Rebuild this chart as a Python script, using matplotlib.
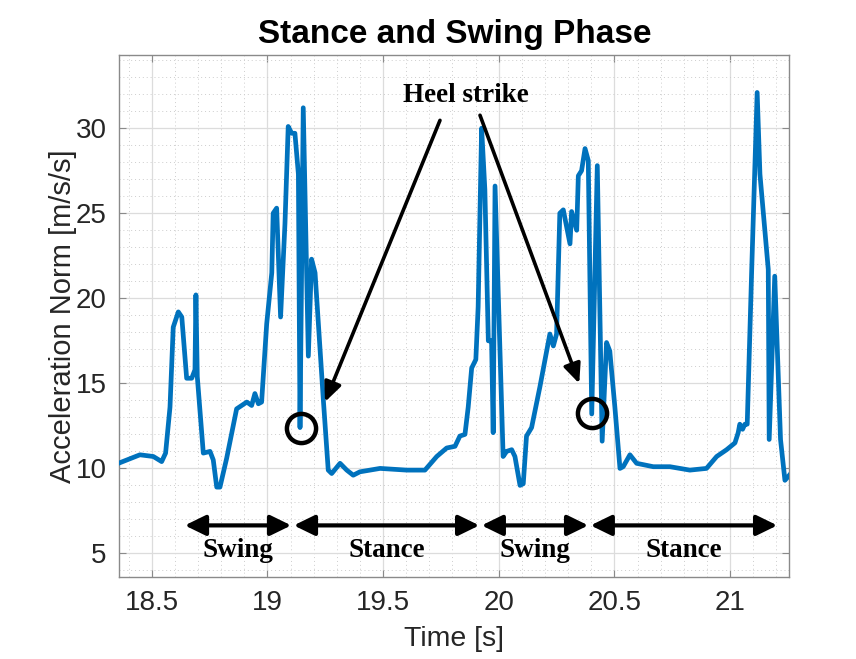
import matplotlib
matplotlib.use('Agg')
import matplotlib.pyplot as plt
from matplotlib.ticker import MultipleLocator

# acceleration norm trace
time_s = [18.356, 18.449, 18.507, 18.543, 18.560, 18.579, 18.593, 18.615, 18.630, 18.651,
          18.673, 18.687, 18.691, 18.697, 18.723, 18.752, 18.766, 18.781, 18.795, 18.824,
          18.867, 18.911, 18.932, 18.946, 18.961, 18.975, 18.997, 19.019, 19.025, 19.040,
          19.057, 19.076, 19.090, 19.105, 19.119, 19.134, 19.141, 19.155, 19.177, 19.191,
          19.206, 19.242, 19.263, 19.278, 19.314, 19.343, 19.371, 19.400, 19.487, 19.602,
          19.681, 19.732, 19.775, 19.811, 19.832, 19.854, 19.868, 19.883, 19.901, 19.911,
          19.926, 19.940, 19.955, 19.969, 19.976, 19.984, 20.019, 20.034, 20.056, 20.070,
          20.092, 20.106, 20.120, 20.142, 20.178, 20.221, 20.236, 20.250, 20.264, 20.279,
          20.308, 20.315, 20.337, 20.344, 20.358, 20.373, 20.387, 20.402, 20.426, 20.447,
          20.466, 20.480, 20.502, 20.524, 20.538, 20.567, 20.596, 20.668, 20.740, 20.826,
          20.898, 20.942, 20.985, 21.021, 21.035, 21.042, 21.054, 21.064, 21.074, 21.093,
          21.117, 21.129, 21.165, 21.169, 21.193, 21.218, 21.237, 21.256]
accel = [10.3, 10.8, 10.7, 10.4, 10.9, 13.6, 18.3, 19.2, 18.9, 15.3,
         15.3, 15.8, 20.2, 15.4, 10.9, 11.0, 10.5, 8.9, 8.9, 10.6,
         13.5, 13.9, 13.7, 14.4, 13.8, 13.9, 18.5, 21.5, 25.0, 25.3,
         18.9, 24.4, 30.1, 29.7, 29.7, 27.3, 12.4, 31.2, 16.6, 22.3,
         21.5, 14.0, 9.9, 9.7, 10.3, 9.9, 9.6, 9.8, 10.0, 9.9,
         9.9, 10.7, 11.2, 11.3, 11.9, 12.0, 13.6, 15.9, 16.4, 19.5,
         30.0, 26.4, 17.5, 17.5, 12.1, 26.6, 10.7, 11.0, 11.1, 10.7,
         9.0, 9.1, 11.9, 12.4, 14.8, 17.9, 17.2, 17.9, 25.0, 25.2,
         23.2, 25.1, 24.0, 27.2, 27.5, 28.8, 28.1, 13.2, 27.8, 11.6,
         17.4, 16.9, 13.6, 10.0, 10.1, 10.8, 10.3, 10.1, 10.1, 9.9,
         10.0, 10.7, 11.1, 11.5, 12.1, 12.6, 12.3, 12.6, 12.6, 21.5,
         32.1, 27.3, 21.7, 11.7, 21.3, 11.7, 9.3, 9.6]
assert len(time_s) == len(accel)

# heel strike markers
heel_t = [19.144, 20.402]
heel_v = [12.35, 13.23]

# phases: (label, start, end)
phase_names = ['Swing', 'Stance', 'Swing', 'Stance']
phase_start = [18.643, 19.114, 19.926, 20.397]
phase_end = [19.103, 19.916, 20.387, 21.204]
phase_arrow_y = 6.65
phase_text_y = 5.15

plt.rcParams['font.family'] = ['Liberation Sans', 'DejaVu Sans']

fig = plt.figure(figsize=(8.56, 6.59), dpi=100)
ax = fig.add_axes([0.1394, 0.124, 0.7827, 0.7925])

ax.plot(time_s, accel, color='#0072BD', lw=3.4, solid_joinstyle='round', zorder=3)
ax.plot(heel_t, heel_v, 'o', ms=21, mfc='none', mec='k', mew=3.2, zorder=4)

ax.set_xlim(18.36, 21.256)
ax.set_ylim(3.6, 34.3)
ax.set_xticks([18.5, 19, 19.5, 20, 20.5, 21])
ax.set_xticklabels(['18.5', '19', '19.5', '20', '20.5', '21'])
ax.set_yticks([5, 10, 15, 20, 25, 30])
ax.xaxis.set_minor_locator(MultipleLocator(0.1))
ax.yaxis.set_minor_locator(MultipleLocator(1))

ax.grid(True, which='major', color='#dcdcdc', lw=0.9, zorder=0)
ax.grid(True, which='minor', color='#cdcdcd', lw=0.7, ls=(0, (1, 3)), zorder=0)

ax.tick_params(which='both', direction='in', top=True, right=True, color='#8a8a8a',
               labelcolor='#262626', labelsize=20, pad=9)
ax.tick_params(which='major', length=5)
ax.tick_params(which='minor', length=0)
for s in ax.spines.values():
    s.set_color('#8a8a8a')
    s.set_linewidth(1.0)

ax.set_title('Stance and Swing Phase', fontsize=24, fontweight='bold', pad=9)
ax.set_xlabel('Time [s]', fontsize=20.5, color='#262626', labelpad=7)
ax.set_ylabel('Acceleration Norm [m/s/s]', fontsize=21, color='#262626', labelpad=-1)

serif = ['Liberation Serif', 'DejaVu Serif']

# heel strike annotation
ax.text(19.858, 31.93, 'Heel strike', family=serif, fontweight='bold', fontsize=19.5,
        ha='center', va='center', zorder=5)
heel_arrows = [((19.746, 30.46), (19.249, 13.91)), ((19.919, 30.76), (20.348, 14.99))]
for start, tip in heel_arrows:
    ax.annotate('', xy=tip, xytext=start,
                arrowprops=dict(arrowstyle='-|>,head_length=0.45,head_width=0.2',
                                mutation_scale=26, lw=2.6, color='k',
                                shrinkA=0, shrinkB=0), zorder=5)

# phase arrows and labels
for name, a, b in zip(phase_names, phase_start, phase_end):
    ax.annotate('', xy=(b, phase_arrow_y), xytext=(a, phase_arrow_y),
                arrowprops=dict(arrowstyle='<|-|>,head_length=0.45,head_width=0.22',
                                mutation_scale=28, lw=3, color='k',
                                shrinkA=0, shrinkB=0), zorder=5)
    ax.text((a + b) / 2, phase_text_y, name, family=serif, fontweight='bold',
            fontsize=19.5, ha='center', va='center', zorder=5)

fig.savefig('out.png', dpi=100, facecolor='white')
